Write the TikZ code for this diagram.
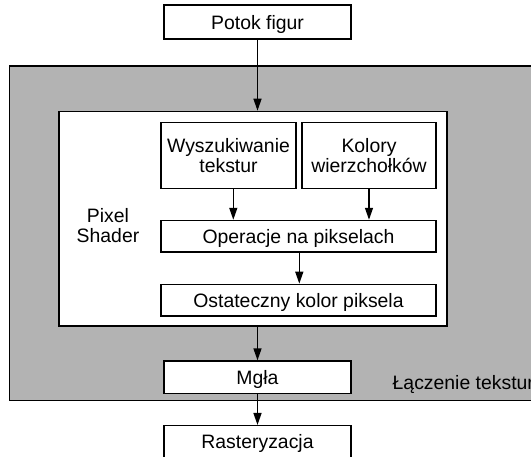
\documentclass[tikz,border=0pt]{standalone}
\usepackage{fontspec}
\setmainfont{Liberation Sans}
\usetikzlibrary{arrows.meta}
\definecolor{panelgray}{RGB}{179,179,179}
\tikzset{
  box/.style={draw=black, fill=white, line width=1.4pt, rectangle, inner sep=0pt,
    align=center, font=\fontsize{19.4}{20.7}\selectfont},
  onebox/.style={box, text height=14pt, text depth=0pt},
  arr/.style={line width=1.4pt, -{Triangle[length=12pt,width=8pt]}},
  lbl/.style={inner sep=0pt, align=center, font=\fontsize{19.4}{20.7}\selectfont}
}
\begin{document}
\begin{tikzpicture}[x=1pt,y=-1pt]
\useasboundingbox (0,0) rectangle (531,456);
\clip (0,0) rectangle (531,456);
\fill[white] (0,0) rectangle (531,456);
% gray panel
\node[draw=black, fill=panelgray, line width=1.8pt, rectangle, inner sep=0pt,
  minimum width=535.5pt, minimum height=334.5pt] (panel) at (277.25,233.25) {};
% inner pixel shader box
\node[draw=black, fill=white, line width=1.6pt, rectangle, inner sep=0pt,
  minimum width=388pt, minimum height=214.5pt] (inner) at (253,218.75) {};
% nodes
\node[onebox, minimum width=187pt, minimum height=34pt] (potok) at (257.5,22) {Potok figur};
\node[box, minimum width=135pt, minimum height=65.6pt] (wysz) at (228.5,155.5) {Wyszukiwanie\\tekstur};
\node[box, minimum width=134pt, minimum height=65.6pt] (kolory) at (369,155.5) {Kolory\\wierzchołków};
\node[onebox, minimum width=275pt, minimum height=31.5pt] (oper) at (298.5,236.2) {Operacje na pikselach};
\node[onebox, minimum width=275pt, minimum height=31.7pt] (ost) at (298.5,300.2) {Ostateczny kolor piksela};
\node[lbl] (pixel) at (108,225.6) {Pixel\\Shader};
\node[onebox, minimum width=187pt, minimum height=32.3pt] (mgla) at (257.5,377.2) {Mgła};
\node[onebox, minimum width=187pt, minimum height=32.3pt] (rast) at (257.5,441.8) {Rasteryzacja};
\node[lbl, anchor=base west] (laczenie) at (392.5,389) {Łączenie tekstur};
% connectors
\draw[arr] (potok.south) -- (potok.south |- inner.north);
\draw[arr] ([xshift=4.8pt]wysz.south) -- ([xshift=4.8pt]wysz.south |- oper.north);
\draw[arr] (kolory.south) -- (kolory.south |- oper.north);
\draw[arr] ([xshift=0.8pt]oper.south) -- ([xshift=0.8pt]oper.south |- ost.north);
\draw[arr] (mgla.north |- inner.south) -- (mgla.north);
\draw[arr] (mgla.south) -- (rast.north);
\end{tikzpicture}
\end{document}
